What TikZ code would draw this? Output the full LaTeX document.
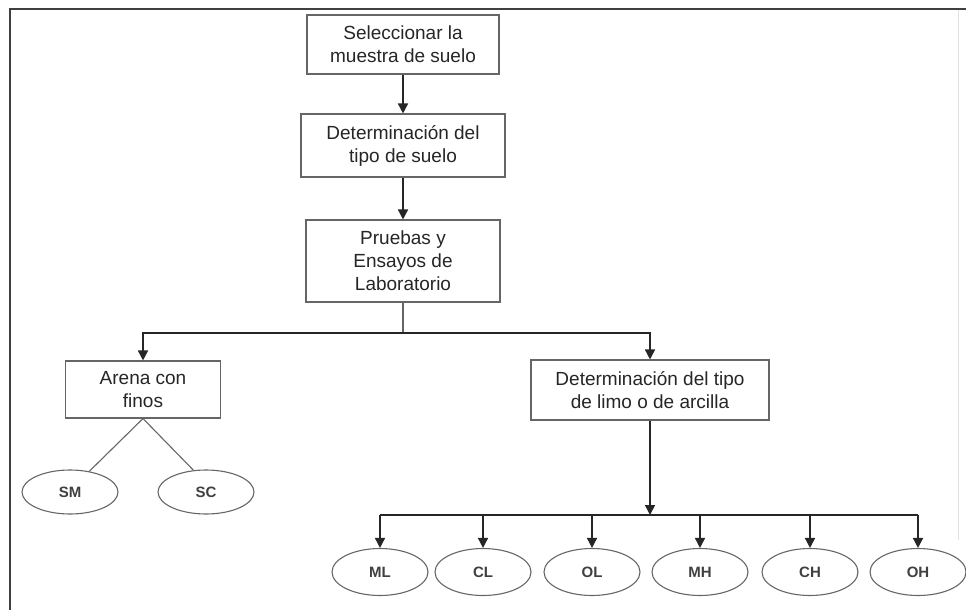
\documentclass[tikz,border=0pt]{standalone}
\usepackage{fontspec}
\setmainfont{Liberation Sans}
\usetikzlibrary{arrows.meta,shapes.geometric}
\begin{document}
\begin{tikzpicture}[x=1pt,y=-1pt,
  box/.style={draw=black!60,line width=1.1pt,fill=white,inner sep=0pt,align=center,
    font=\fontsize{19}{23}\selectfont,text=black!85},
  oval/.style={ellipse,draw=black!60,line width=1.1pt,inner sep=0pt,
    minimum width=96pt,minimum height=47pt,font=\fontsize{15}{18}\selectfont\bfseries,text=black!75},
  arr/.style={draw=black!85,line width=1.6pt,-{Triangle[length=10pt,width=10pt]}},
  plain/.style={draw=black!85,line width=1.6pt},
  thin/.style={draw=black!60,line width=1.1pt}]
\useasboundingbox (0,0) rectangle (966,610);
\fill[white] (0,0) rectangle (966,610);
% frame
\draw[black!75,line width=2pt] (10,610) -- (10,9) -- (966,9);
\draw[black!12,line width=1pt] (958,10) -- (958,540);
% boxes
\node[box,minimum width=192pt,minimum height=59pt] (b1) at (403,44.5) {Seleccionar la\\muestra de suelo};
\node[box,minimum width=204pt,minimum height=63pt] (b2) at (403,145.5) {Determinación del\\tipo de suelo};
\node[box,minimum width=194pt,minimum height=82pt] (b3) at (403,261) {Pruebas y\\Ensayos de\\Laboratorio};
\node[box,minimum width=155pt,minimum height=57pt] (arena) at (143,389.5) {Arena con\\finos};
\node[box,minimum width=238pt,minimum height=60pt] (det) at (650,390) {Determinación del tipo\\de limo o de arcilla};
% ovals
\node[oval,minimum height=44pt] (sm) at (70,492) {SM};
\node[oval,minimum height=44pt] (sc) at (206,492) {SC};
\node[oval] (ml) at (380,572) {ML};
\node[oval] (cl) at (483,572) {CL};
\node[oval] (ol) at (592,572) {OL};
\node[oval] (mh) at (700,572) {MH};
\node[oval] (ch) at (810,572) {CH};
\node[oval] (oh) at (918,572) {OH};
% connectors
\coordinate (j1) at (403,333);
\coordinate (bus) at (650,515);
\draw[arr] (b1.south) -- (b2.north);
\draw[arr] (b2.south) -- (b3.north);
\draw[thin] (b3.south) -- (j1);
\draw[arr] (j1) -| (arena.north);
\draw[arr] (j1) -| (det.north);
\draw[thin] (arena.south) -- (sm.47);
\draw[thin] (arena.south) -- (sc.120);
\draw[arr] (det.south) -- (bus);
\draw[plain] (ml.north |- bus) -- (oh.north |- bus);
\foreach \n in {ml,cl,ol,mh,ch,oh}{
  \draw[arr] (\n.north |- bus) -- (\n.north);
}
\end{tikzpicture}
\end{document}
